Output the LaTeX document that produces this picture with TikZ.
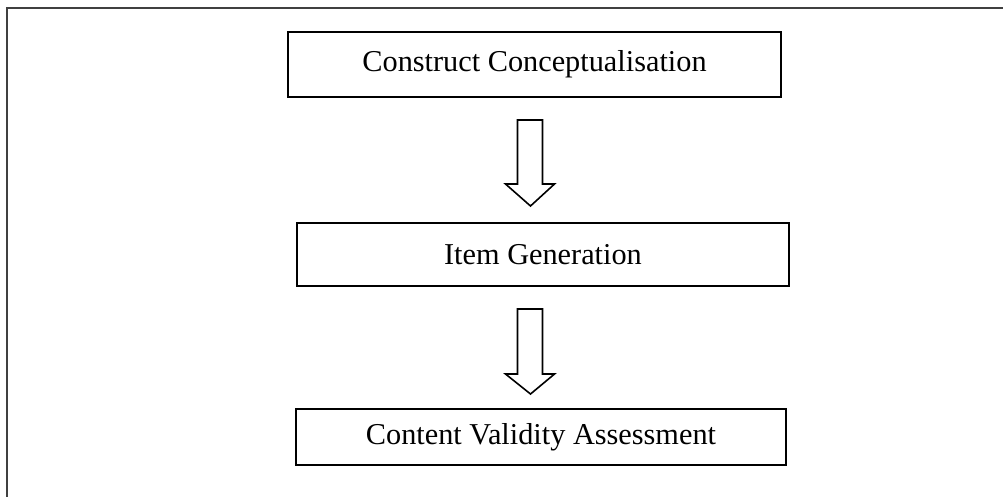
\documentclass[tikz,border=0pt]{standalone}
\usepackage{fontspec}
\setmainfont{Liberation Serif}
\begin{document}
\begin{tikzpicture}[x=1pt,y=-1pt,
  stepbox/.style={draw=black,line width=2.2pt,inner sep=0pt,font=\fontsize{30.3}{36}\selectfont},
  blockarrow/.style={draw=black,line width=1.6pt,fill=white,line join=miter}]
\useasboundingbox (0,0) rectangle (1003,497);
\draw[line width=1.6pt,black!75] (1003,8) -- (7,8) -- (7,497);
\node[stepbox,minimum width=493pt,minimum height=65pt] (b1) at (534.5,64.5) {Construct Conceptualisation};
\node[stepbox,minimum width=492pt,minimum height=63pt] (b2) at (543,254.5) {Item Generation};
\node[stepbox,minimum width=490pt,minimum height=56pt] (b3) at (541,437) {Content Validity Assessment};
\coordinate (a1) at (530,120);
\coordinate (a2) at (530,309);
\draw[blockarrow] (a1) ++(-12.5,0) -- ++(25,0) -- ++(0,64) -- ++(12,0) -- ++(-24,22) -- ++(-25,-22) -- ++(12,0) -- cycle;
\draw[blockarrow] (a2) ++(-12.5,0) -- ++(25,0) -- ++(0,65) -- ++(12,0) -- ++(-24,20) -- ++(-25,-20) -- ++(12,0) -- cycle;
\end{tikzpicture}
\end{document}
